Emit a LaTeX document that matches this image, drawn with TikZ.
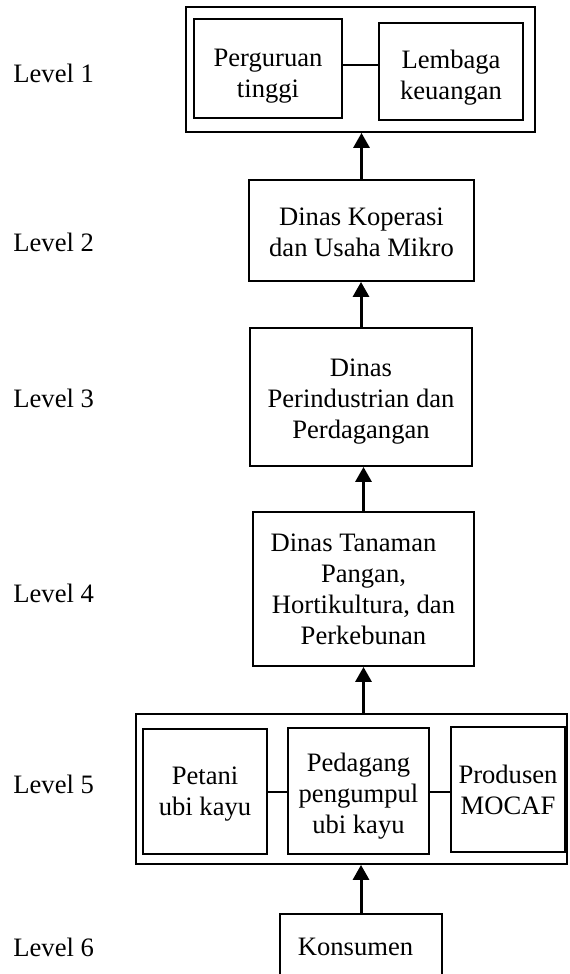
\documentclass[tikz,border=0pt]{standalone}
\usepackage{fontspec}
\setmainfont{Liberation Serif}
\usetikzlibrary{arrows.meta,calc}
\begin{document}
\begin{tikzpicture}[x=0.5pt,y=-0.5pt,
  every node/.style={font=\fontsize{13.3pt}{15.5pt}\selectfont},
  box/.style={draw,line width=0.9pt,inner sep=0pt,align=center},
  txt/.style={align=center,inner sep=0pt},
  lvl/.style={anchor=west,inner sep=0pt},
  link/.style={line width=0.9pt},
  arr/.style={line width=1.5pt,-{Triangle[width=8pt,length=7.5pt]}}]
\useasboundingbox (0,0) rectangle (569,974);
% Level 1
\node[box,minimum width=174.5pt,minimum height=62.5pt] (L1) at (360.5,69.5) {};
\node[box,minimum width=74pt,minimum height=49.5pt,
  label={[txt,yshift=-4pt]center:{Perguruan\\tinggi}}] (pt) at (268,68.5) {};
\node[box,minimum width=72pt,minimum height=48.5pt,
  label={[txt,yshift=-3pt]center:{Lembaga\\keuangan}}] (lk) at (451,71.5) {};
\coordinate (c1) at (360,65);
\draw[link] (c1 -| pt.east) -- (c1 -| lk.west);
% Level 2
\node[box,minimum width=112.5pt,minimum height=50.5pt,
  label={[txt,yshift=-1pt]center:{Dinas Koperasi\\dan Usaha Mikro}}] (L2) at (361.5,230.5) {};
% Level 3
\node[box,minimum width=111pt,minimum height=69pt,
  label={[txt,yshift=-2.5pt]center:{Dinas\\Perindustrian dan\\Perdagangan}}] (L3) at (361,397) {};
% Level 4
\node[box,minimum width=110.5pt,minimum height=77pt] (L4) at (363.5,589) {Dinas Tanaman\hspace*{10pt}\\Pangan,\\Hortikultura, dan\\Perkebunan};
% Level 5
\node[box,minimum width=215.5pt,minimum height=75pt] (L5) at (351.5,789) {};
\node[box,minimum width=62pt,minimum height=62.5pt,
  label={[txt,yshift=-1.5pt]center:{Petani\\ubi kayu}}] (petani) at (205,791.5) {};
\node[box,minimum width=70.5pt,minimum height=63pt,
  label={[txt,yshift=-2.5pt]center:{Pedagang\\pengumpul\\ubi kayu}}] (pedagang) at (358.5,791) {};
\node[box,minimum width=57pt,minimum height=62.5pt] (produsen) at (508,789.5) {Produsen\\MOCAF};
\coordinate (c5) at (0,792);
\draw[link] (c5 -| petani.east) -- (c5 -| pedagang.west);
\draw[link] (c5 -| pedagang.east) -- (c5 -| produsen.west);
% Level 6
\node[box,minimum width=81pt,minimum height=33pt] (kons) at (361,947) {Konsumen\hspace*{5.5pt}};
% arrows
\draw[arr] (kons.north) -- (kons.north |- L5.south);
\draw[arr] (L5.north -| L4.south) -- (L4.south);
\draw[arr] (L4.north) -- (L4.north |- L3.south);
\draw[arr] (L3.north) -- (L3.north |- L2.south);
\draw[arr] (L2.north) -- (L2.north |- L1.south);
% level labels
\node[lvl] (lv1) at (13,73) {Level 1};
\node[lvl] (lv2) at (13,242) {Level 2};
\node[lvl] (lv3) at (13,398) {Level 3};
\node[lvl] (lv4) at (13,593) {Level 4};
\node[lvl] (lv5) at (13,784) {Level 5};
\node[lvl] (lv6) at (13,947) {Level 6};
\end{tikzpicture}
\end{document}
